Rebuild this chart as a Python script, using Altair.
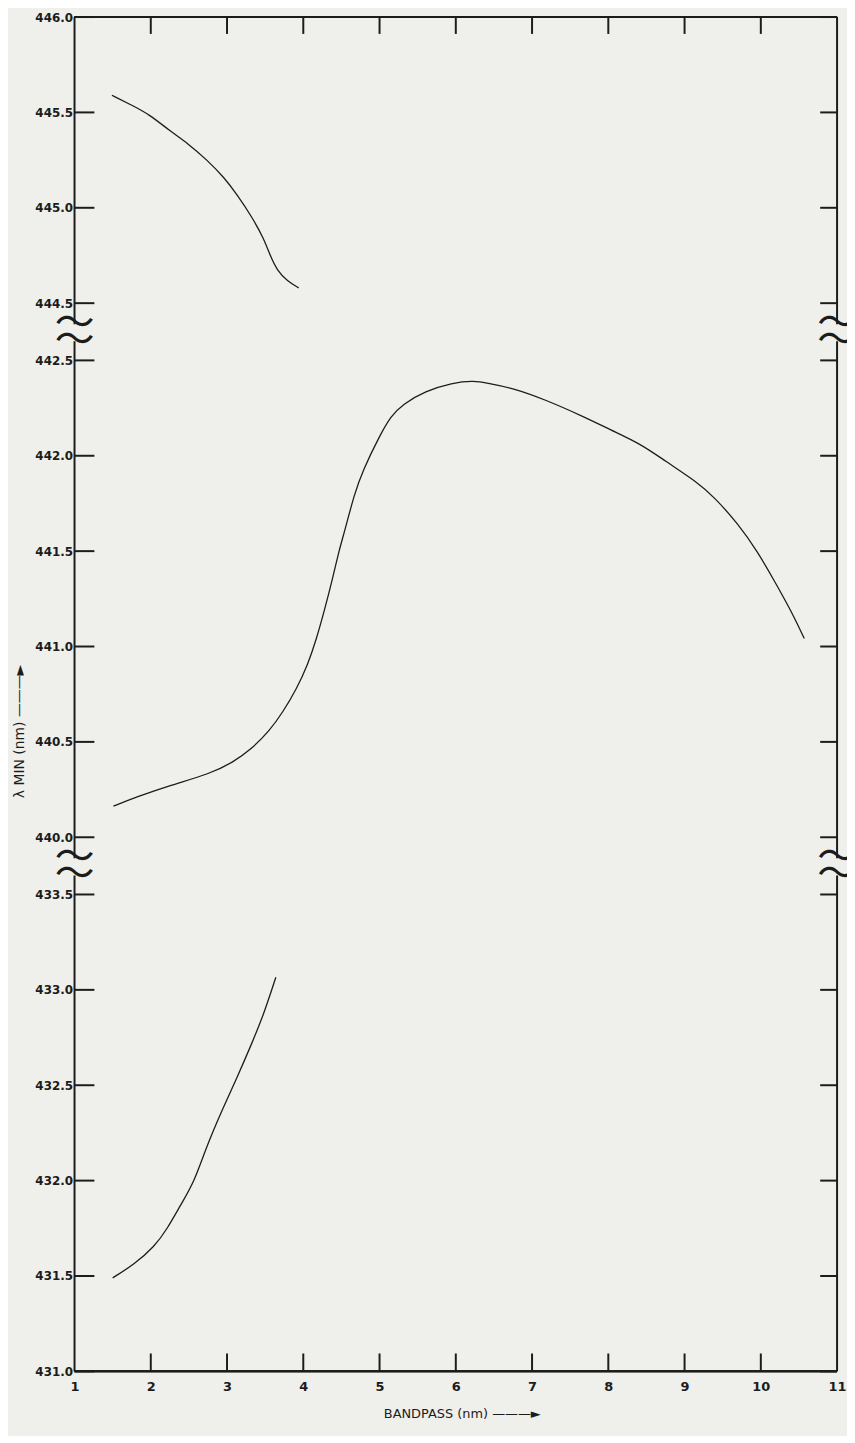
import altair as alt
import pandas as pd

W, H = 768, 1364

# ---- curves: bandpass (nm) vs lambda min (nm) ----
top_bp = [1.49, 1.74, 1.98, 2.26, 2.48, 2.74, 2.96, 3.13, 3.33, 3.48, 3.57, 3.66, 3.79, 3.94]
top_lam = [445.59, 445.54, 445.49, 445.40, 445.34, 445.25, 445.16, 445.07, 444.95,
           444.84, 444.745, 444.67, 444.615, 444.58]

mid_bp = [1.51, 1.82, 2.25, 2.78, 3.08, 3.30, 3.56, 3.73, 3.91, 4.06, 4.17, 4.28, 4.39,
          4.47, 4.54, 4.67, 4.78, 5.00, 5.15, 5.30, 5.60, 5.95, 6.24, 6.43, 6.74, 7.17,
          7.69, 8.04, 8.43, 8.74, 9.17, 9.39, 9.70, 9.96, 10.17, 10.39, 10.57]
mid_lam = [440.163, 440.212, 440.272, 440.333, 440.394, 440.455, 440.559, 440.655, 440.776,
           440.906, 441.036, 441.193, 441.366, 441.505, 441.601, 441.800, 441.922, 442.104,
           442.208, 442.269, 442.339, 442.382, 442.394, 442.379, 442.356, 442.295, 442.203,
           442.134, 442.061, 441.974, 441.861, 441.783, 441.644, 441.496, 441.349, 441.193,
           441.042]

bot_bp = [1.50, 1.78, 2.05, 2.22, 2.39, 2.57, 2.72, 2.92, 3.14, 3.31, 3.48, 3.64]
bot_lam = [431.49, 431.56, 431.654, 431.75, 431.871, 431.993, 432.167, 432.357, 432.548,
           432.705, 432.87, 433.066]

# ---- axis definitions ----
x_ticks = [1, 2, 3, 4, 5, 6, 7, 8, 9, 10, 11]
x_inner_ticks = [2, 3, 4, 5, 6, 7, 8, 9, 10]
y_ticks = [431.0, 431.5, 432.0, 432.5, 433.0, 433.5,
           440.0, 440.5, 441.0, 441.5, 442.0, 442.5,
           444.5, 445.0, 445.5, 446.0]
seg_lo = [431.0, 440.0, 444.5]
seg_hi = [433.5, 442.5, 446.0]
GAP = 0.3


def seg_base(i):
    base = 0.0
    for j in range(i):
        base += (seg_hi[j] - seg_lo[j]) + GAP
    return base


bases = [seg_base(i) for i in range(3)]
U_MAX = bases[2] + seg_hi[2] - seg_lo[2]


def brk(lam):
    for i in range(3):
        if lam <= seg_hi[i] + 1e-9:
            return lam - seg_lo[i] + bases[i]
    return lam - seg_lo[2] + bases[2]


expr = (f"datum.lam <= {seg_hi[0]} ? datum.lam - {seg_lo[0]} + {bases[0]} : "
        f"(datum.lam <= {seg_hi[1]} ? datum.lam - {seg_lo[1]} + {bases[1]} : "
        f"datum.lam - {seg_lo[2]} + {bases[2]})")

label_expr = (f"datum.value <= {bases[0] + 2.55} ? format(datum.value + {seg_lo[0]}, '.1f') : "
              f"(datum.value <= {bases[1] + 2.55} ? format(datum.value - {bases[1]} + {seg_lo[1]}, '.1f') : "
              f"format(datum.value - {bases[2]} + {seg_lo[2]}, '.1f'))")

# break positions (wave marks) inside each gap
tilde_u = []
frame_u0 = [0.0]
frame_u1 = []
for i in range(2):
    a = bases[i] + seg_hi[i] - seg_lo[i]
    b = bases[i + 1]
    t1, t2 = a + 0.1, b - 0.11
    tilde_u += [t1, t2]
    frame_u1.append(t1)
    frame_u0.append(t2)
frame_u1.append(U_MAX)

curves = pd.DataFrame({
    "bp": top_bp + mid_bp + bot_bp,
    "lam": top_lam + mid_lam + bot_lam,
    "curve": ["a"] * len(top_bp) + ["b"] * len(mid_bp) + ["c"] * len(bot_bp),
})
yt = pd.DataFrame({"lam": y_ticks})
xt = pd.DataFrame({"bp": x_inner_ticks})
tildes = pd.DataFrame({"u": tilde_u})
frame = pd.DataFrame({"u0": frame_u0, "u1": frame_u1})

BG = "#efefeb"
INK = "#1c1c1c"
FONT = "DejaVu Sans"

xscale = alt.Scale(domain=[1, 11], nice=False, zero=False)
yscale = alt.Scale(domain=[0, U_MAX], nice=False, zero=False)

xaxis = alt.Axis(values=x_ticks, format="d", ticks=False, domain=False, grid=False,
                 labelFlush=False, labelOverlap=False, labelPadding=9, labelFontSize=13,
                 labelFont=FONT, labelFontWeight="bold", labelColor=INK,
                 title="BANDPASS  (nm)  ———►", titleFont=FONT, titleFontSize=13,
                 titleFontWeight="normal", titleColor=INK, titleY=42, titleX=390,
                 titleBaseline="middle")
yaxis = alt.Axis(values=[brk(v) for v in y_ticks], labelExpr=label_expr, ticks=False,
                 domain=False, grid=False, labelFlush=False, labelOverlap=False,
                 labelPadding=2, labelFontSize=12, labelFont=FONT, labelFontWeight="bold",
                 labelColor=INK,
                 title="λ  MIN   (nm)   ———►", titleFont=FONT, titleFontSize=14,
                 titleFontWeight="normal", titleColor=INK, titleAngle=270, titleX=-55,
                 titleY=719, titleBaseline="middle", titleAlign="center")

lines = alt.Chart(curves).transform_calculate(u=expr).mark_line(
    interpolate="basis", color=INK, strokeWidth=1.3
).encode(
    x=alt.X("bp:Q", scale=xscale, axis=xaxis),
    y=alt.Y("u:Q", scale=yscale, axis=yaxis),
    detail="curve:N",
)

left_ticks = alt.Chart(yt).transform_calculate(u=expr).mark_rule(color=INK, strokeWidth=2).encode(
    y=alt.Y("u:Q", scale=yscale), x=alt.value(0), x2=alt.value(20))
right_ticks = alt.Chart(yt).transform_calculate(u=expr).mark_rule(color=INK, strokeWidth=2).encode(
    y=alt.Y("u:Q", scale=yscale), x=alt.value(W - 17), x2=alt.value(W))
bottom_ticks = alt.Chart(xt).mark_rule(color=INK, strokeWidth=2).encode(
    x=alt.X("bp:Q", scale=xscale), y=alt.value(H - 18), y2=alt.value(H))
top_ticks = alt.Chart(xt).mark_rule(color=INK, strokeWidth=2).encode(
    x=alt.X("bp:Q", scale=xscale), y=alt.value(0), y2=alt.value(17))

left_frame = alt.Chart(frame).mark_rule(color=INK, strokeWidth=2).encode(
    y=alt.Y("u0:Q", scale=yscale), y2="u1:Q", x=alt.value(0))
right_frame = alt.Chart(frame).mark_rule(color=INK, strokeWidth=2).encode(
    y=alt.Y("u0:Q", scale=yscale), y2="u1:Q", x=alt.value(W))
top_frame = alt.Chart(frame).mark_rule(color=INK, strokeWidth=2).encode(
    x=alt.value(0), x2=alt.value(W), y=alt.value(0))
bottom_frame = alt.Chart(frame).mark_rule(color=INK, strokeWidth=2).encode(
    x=alt.value(0), x2=alt.value(W), y=alt.value(H))

WAVE_FONT = "Noto Sans CJK JP"
left_tilde = alt.Chart(tildes).mark_text(text="〜", font=WAVE_FONT, fontSize=40, color=INK,
                                         align="center", baseline="middle").encode(
    y=alt.Y("u:Q", scale=yscale), x=alt.value(0))
right_tilde = alt.Chart(tildes).mark_text(text="〜", font=WAVE_FONT, fontSize=40, color=INK,
                                          align="center", baseline="middle").encode(
    y=alt.Y("u:Q", scale=yscale), x=alt.value(W))

chart = alt.layer(
    lines, left_frame, right_frame, top_frame, bottom_frame,
    left_ticks, right_ticks, bottom_ticks, top_ticks, left_tilde, right_tilde,
).properties(
    width=W, height=H,
    autosize=alt.AutoSizeParams(type="none"),
    padding={"left": 67, "top": 4, "right": 10, "bottom": 60},
    background=BG,
).configure_view(stroke=None, fill=BG)

chart.save("out.html", embed_options={"renderer": "svg", "actions": False})
